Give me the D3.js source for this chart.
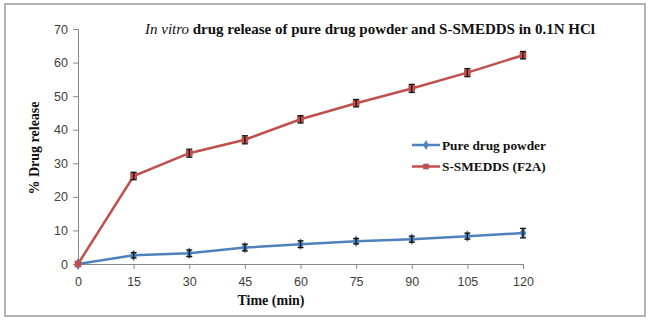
<!DOCTYPE html>
<html><head><meta charset="utf-8">
<script src="https://cdn.jsdelivr.net/npm/d3@7"></script>
<style>body{margin:0;background:#fff}</style>
</head><body>
<svg id="c" width="650" height="321"></svg>
<script>
const times = [0, 15, 30, 45, 60, 75, 90, 105, 120];
const pureDrug = [0, 2.6, 3.2, 4.9, 5.9, 6.8, 7.4, 8.3, 9.2];
const pureErr = [0, 0.8, 1.0, 1.0, 1.0, 0.8, 0.9, 0.9, 1.4];
const smedds = [0, 26.2, 33.0, 37.0, 43.1, 47.9, 52.3, 57.0, 62.2];
const smeddsErr = [0, 1.1, 1.2, 1.2, 1.1, 1.1, 1.2, 1.2, 1.1];
const yTicks = [0, 10, 20, 30, 40, 50, 60, 70];
const seriesNames = ["Pure drug powder", "S-SMEDDS (F2A)"];

const svg = d3.select("#c");
svg.append("rect").attr("x", 5).attr("y", 4).attr("width", 640).attr("height", 312)
  .attr("fill", "#fff").attr("stroke", "#9a9a9a").attr("stroke-width", 1.5);

const x = d3.scaleLinear().domain([0, 120]).range([78, 523]);
const y = d3.scaleLinear().domain([0, 70]).range([264, 29]);

const yAxis = svg.append("g").attr("transform", "translate(78,0)")
  .call(d3.axisLeft(y).tickValues(yTicks).tickSize(5).tickPadding(5));
const xAxis = svg.append("g").attr("transform", "translate(0,264)")
  .call(d3.axisBottom(x).tickValues(times).tickSize(5).tickPadding(8));
[yAxis, xAxis].forEach(a => {
  a.selectAll("path,line").attr("stroke", "#888");
  a.selectAll("text").attr("fill", "#404040").attr("font-family", "'Liberation Sans', Arial, sans-serif").attr("font-size", 12.5);
});

const series = [
  {name: seriesNames[0], vals: pureDrug, err: pureErr, color: "#4F81BD", shape: d3.symbolDiamond, size: 40},
  {name: seriesNames[1], vals: smedds, err: smeddsErr, color: "#C0504D", shape: d3.symbolSquare, size: 45}
];
const line = d3.line().x((d, i) => x(times[i])).y(d => y(d));

series.forEach(s => {
  svg.append("path").datum(s.vals).attr("d", line).attr("fill", "none")
    .attr("stroke", s.color).attr("stroke-width", 2.5);
  svg.append("g").selectAll("path").data(s.vals).join("path")
    .attr("d", d3.symbol(s.shape, s.size))
    .attr("transform", (d, i) => `translate(${x(times[i])},${y(d)})`)
    .attr("fill", s.color);
});
series.forEach(s => {
  const g = svg.append("g").attr("stroke", "#111").attr("stroke-width", 1.3);
  s.vals.forEach((v, i) => {
    if (s.err[i] <= 0) return;
    const cx = x(times[i]), y1 = y(v + s.err[i]), y2 = y(v - s.err[i]);
    g.append("line").attr("x1", cx).attr("x2", cx).attr("y1", y1).attr("y2", y2);
    g.append("line").attr("x1", cx - 3).attr("x2", cx + 3).attr("y1", y1).attr("y2", y1);
    g.append("line").attr("x1", cx - 3).attr("x2", cx + 3).attr("y1", y2).attr("y2", y2);
  });
});

// title
const serif = "'Liberation Serif', 'Times New Roman', serif";
const t = svg.append("text").attr("x", 145).attr("y", 34).attr("font-family", serif)
  .attr("font-size", 15).attr("fill", "#111");
t.append("tspan").attr("font-style", "italic").text("In vitro");
t.append("tspan").attr("font-weight", "bold").text(" drug release of pure drug powder and S-SMEDDS in 0.1N HCl");

// axis labels
svg.append("text").attr("x", 271).attr("y", 305).attr("text-anchor", "middle")
  .attr("font-family", serif).attr("font-weight", "bold").attr("font-size", 14).attr("fill", "#111")
  .text("Time (min)");
svg.append("text").attr("transform", "translate(39,148) rotate(-90)").attr("text-anchor", "middle")
  .attr("font-family", serif).attr("font-weight", "bold").attr("font-size", 14).attr("fill", "#111")
  .text("% Drug release");

// legend
series.forEach((s, i) => {
  const ly = 145 + i * 21.5;
  svg.append("line").attr("x1", 412).attr("x2", 440).attr("y1", ly).attr("y2", ly)
    .attr("stroke", s.color).attr("stroke-width", 2.5);
  svg.append("path").attr("d", d3.symbol(s.shape, s.size * 0.7)).attr("transform", `translate(426,${ly})`).attr("fill", s.color);
  svg.append("text").attr("x", 442).attr("y", ly + 4.5).attr("font-family", serif).attr("font-weight", "bold")
    .attr("font-size", 13.3).attr("fill", "#111").text(s.name);
});
</script>
</body></html>
